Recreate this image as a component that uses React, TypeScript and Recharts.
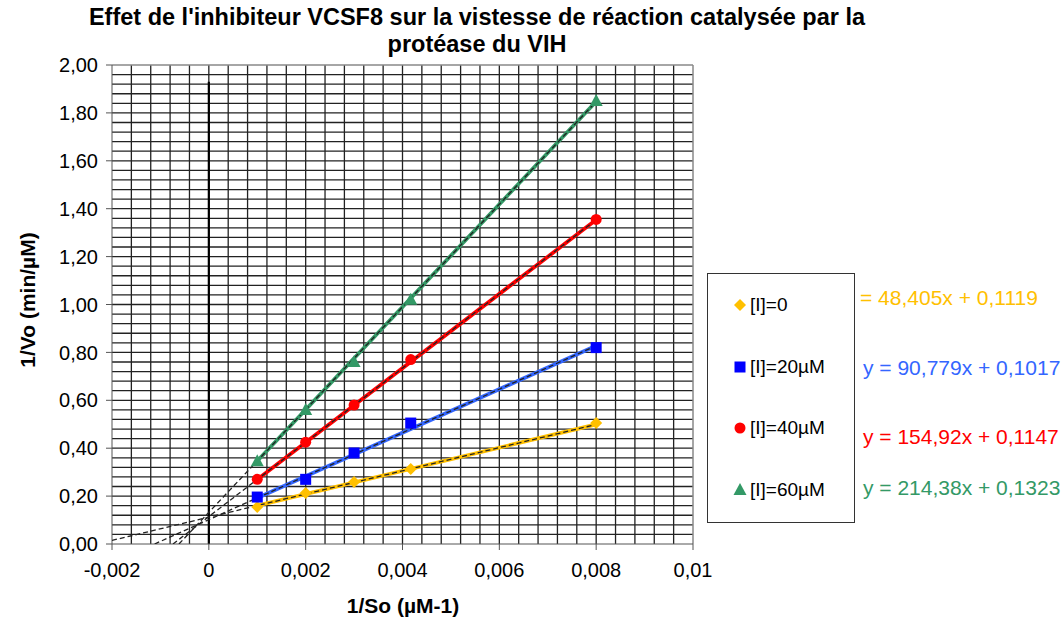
import React from 'react';
import {
  ComposedChart,
  Scatter,
  XAxis,
  YAxis,
  ReferenceLine,
} from 'recharts';

// 1/So values (µM-1) shared by every series
const INV_S = [0.001, 0.002, 0.003, 0.00417, 0.008];

const SERIES_NAMES = ['[I]=0', '[I]=20µM', '[I]=40µM', '[I]=60µM'];
const Y_I0 = [0.155, 0.213, 0.259, 0.313, 0.505];
const Y_I20 = [0.196, 0.27, 0.38, 0.505, 0.82];
const Y_I40 = [0.27, 0.425, 0.58, 0.77, 1.355];
const Y_I60 = [0.345, 0.56, 0.76, 1.02, 1.85];

// linear trendlines shown next to the legend
const SLOPES = [48.405, 90.779, 154.92, 214.38];
const INTERCEPTS = [0.1119, 0.1017, 0.1147, 0.1323];
const EQUATIONS = [
  '= 48,405x + 0,1119',
  'y = 90,779x + 0,1017',
  'y = 154,92x + 0,1147',
  'y = 214,38x + 0,1323',
];

const X_TICKS = [-0.002, 0, 0.002, 0.004, 0.006, 0.008, 0.01];
const Y_TICKS = [0, 0.2, 0.4, 0.6, 0.8, 1, 1.2, 1.4, 1.6, 1.8, 2];

const MARKER_COLORS = ['#FFC000', '#0000FF', '#FF0000', '#339966'];
const LINE_COLORS = ['#FFC000', '#3366FF', '#FF0000', '#339966'];
const SHAPES = ['diamond', 'square', 'circle', 'triangle'];

const FONT = '"Liberation Sans", Arial, sans-serif';

// minor grid every 0.0004 on x and 0.04 on y (inner lines only)
const GRID_X: number[] = [];
for (let i = 1; i < 30; i++) GRID_X.push(Math.round((-0.002 + i * 0.0004) * 1e5) / 1e5);
const GRID_Y: number[] = [];
for (let i = 1; i < 50; i++) GRID_Y.push(Math.round(i * 0.04 * 100) / 100);

const toPoints = (ys: number[]) => INV_S.map((x, i) => ({ x, y: ys[i] }));
const seriesData = [Y_I0, Y_I20, Y_I40, Y_I60].map(toPoints);

const fitLine = (k: number) => [
  { x: INV_S[0], y: SLOPES[k] * INV_S[0] + INTERCEPTS[k] },
  { x: INV_S[4], y: SLOPES[k] * INV_S[4] + INTERCEPTS[k] },
];

// dashed trendline extended backward to the x-intercept (or the axis edge)
const backLine = (k: number) => {
  const x0 = Math.max(-0.002, -INTERCEPTS[k] / SLOPES[k]);
  return [
    { x: x0, y: SLOPES[k] * x0 + INTERCEPTS[k] },
    { x: INV_S[4], y: SLOPES[k] * INV_S[4] + INTERCEPTS[k] },
  ];
};

const fmtY = (v: number) => v.toFixed(2).replace('.', ',');
const fmtX = (v: number) => parseFloat(v.toFixed(4)).toString().replace('.', ',');

const Marker = ({ cx, cy, kind, color }: any) => {
  if (cx == null || cy == null) return <g />;
  if (kind === 'diamond')
    return <polygon points={`${cx},${cy - 6} ${cx + 6},${cy} ${cx},${cy + 6} ${cx - 6},${cy}`} fill={color} />;
  if (kind === 'square') return <rect x={cx - 5.5} y={cy - 5.5} width={11} height={11} fill={color} />;
  if (kind === 'circle') return <circle cx={cx} cy={cy} r={5.5} fill={color} />;
  return <polygon points={`${cx},${cy - 7} ${cx + 6.5},${cy + 5} ${cx - 6.5},${cy + 5}`} fill={color} />;
};

const Empty = () => <g />;

const LegendBox = () => (
  <div
    style={{
      position: 'absolute',
      left: 707,
      top: 273,
      width: 146,
      height: 248,
      border: '1px solid #333',
      fontFamily: FONT,
      fontSize: 19,
      color: '#000',
    }}
  >
    {SERIES_NAMES.map((name, k) => (
      <div
        key={name}
        style={{
          position: 'absolute',
          left: 25,
          top: [20, 82, 143, 205][k],
          height: 22,
          display: 'flex',
          alignItems: 'center',
          whiteSpace: 'nowrap',
        }}
      >
        <svg width={14} height={14} style={{ marginRight: 3 }}>
          <Marker cx={7} cy={7} kind={SHAPES[k]} color={MARKER_COLORS[k]} />
        </svg>
        {name}
      </div>
    ))}
  </div>
);

export default function App() {
  return (
    <div style={{ position: 'absolute', left: 0, top: 0, width: 1064, height: 622, background: '#fff', fontFamily: FONT, overflow: 'hidden' }}>
      <div
        style={{
          position: 'absolute',
          left: 0,
          top: 4,
          width: 954,
          textAlign: 'center',
          fontWeight: 'bold',
          fontSize: 23.5,
          lineHeight: '27px',
          color: '#000',
        }}
      >
        Effet de l'inhibiteur VCSF8 sur la vistesse de réaction catalysée par la
        <br />
        protéase du VIH
      </div>

      <ComposedChart
        width={1064}
        height={622}
        margin={{ top: 65, right: 371, bottom: 48, left: 52 }}
        style={{ position: 'absolute', left: 0, top: 0 }}
      >
        <XAxis
          type="number"
          dataKey="x"
          domain={[-0.002, 0.01]}
          ticks={X_TICKS}
          tickFormatter={fmtX}
          allowDataOverflow
          stroke="#555"
          tickSize={6}
          tickMargin={13}
          height={30}
          tick={{ fill: '#000', fontSize: 20, fontFamily: FONT }}
        />
        <YAxis
          type="number"
          dataKey="y"
          domain={[0, 2]}
          ticks={Y_TICKS}
          tickFormatter={fmtY}
          allowDataOverflow
          stroke="#555"
          tickSize={6}
          tickMargin={8}
          width={60}
          tick={{ fill: '#000', fontSize: 20, fontFamily: FONT }}
        />
        {GRID_X.map((v) => (
          <ReferenceLine key={`gx-${v}`} x={v} stroke="#222" strokeWidth={1.3} />
        ))}
        {GRID_Y.map((v) => (
          <ReferenceLine key={`gy-${v}`} y={v} stroke="#222" strokeWidth={1.3} />
        ))}
        <ReferenceLine x={0.01} stroke="#888" strokeWidth={1.5} />
        <ReferenceLine y={2} stroke="#888" strokeWidth={1.5} />
        <ReferenceLine
          segment={[{ x: 0, y: 0 }, { x: 0, y: 1.93 }]}
          stroke="#000"
          strokeWidth={2.2}
        />
        {seriesData.map((_, k) => (
          <Scatter
            key={`fit-${k}`}
            data={fitLine(k)}
            line={{ stroke: LINE_COLORS[k], strokeWidth: 3.8 }}
            shape={Empty}
            isAnimationActive={false}
            legendType="none"
          />
        ))}
        {seriesData.map((_, k) => (
          <Scatter
            key={`trend-${k}`}
            data={backLine(k)}
            line={{ stroke: '#222', strokeWidth: 1.3, strokeDasharray: '5 3' }}
            shape={Empty}
            isAnimationActive={false}
            legendType="none"
          />
        ))}
        {seriesData.map((pts, k) => (
          <Scatter
            key={SERIES_NAMES[k]}
            name={SERIES_NAMES[k]}
            data={pts}
            shape={(p: any) => <Marker cx={p.cx} cy={p.cy} kind={SHAPES[k]} color={MARKER_COLORS[k]} />}
            isAnimationActive={false}
          />
        ))}
      </ComposedChart>

      <LegendBox />

      {EQUATIONS.map((eq, k) => (
        <div
          key={eq}
          style={{
            position: 'absolute',
            left: k === 0 ? 860 : 863,
            top: [285, 355, 424, 475][k],
            fontSize: 21,
            lineHeight: '26px',
            color: LINE_COLORS[k],
            whiteSpace: 'nowrap',
          }}
        >
          {eq}
        </div>
      ))}

      <div
        style={{
          position: 'absolute',
          left: 28,
          top: 300,
          transform: 'translate(-50%, -50%) rotate(-90deg)',
          fontWeight: 'bold',
          fontSize: 21,
          whiteSpace: 'nowrap',
        }}
      >
        1/Vo (min/µM)
      </div>
      <div
        style={{
          position: 'absolute',
          left: 403,
          top: 606,
          transform: 'translate(-50%, -50%)',
          fontWeight: 'bold',
          fontSize: 21,
          whiteSpace: 'nowrap',
        }}
      >
        1/So (µM-1)
      </div>
    </div>
  );
}
